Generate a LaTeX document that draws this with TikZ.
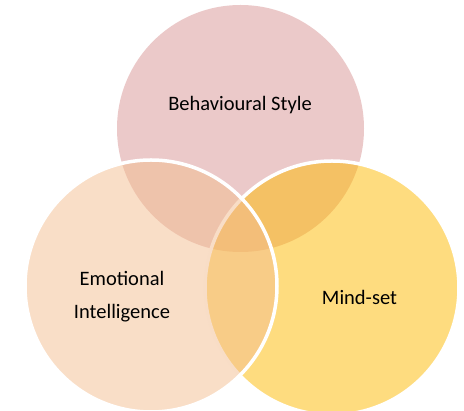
\documentclass[tikz,border=0pt]{standalone}
\usepackage{fontspec}
\setmainfont{Carlito}
\definecolor{topc}{RGB}{215,147,147}
\definecolor{leftc}{RGB}{243,189,143}
\definecolor{rightc}{RGB}{253,185,0}
\begin{document}
\begin{tikzpicture}[x=1pt,y=-1pt,
  bubble/.style={circle,inner sep=0pt,fill opacity=0.5,draw=white,line width=3.5pt},
  lbl/.style={font=\fontsize{20.5}{33}\selectfont,text=black,align=center}]
\useasboundingbox (0,0) rectangle (464,411);
\node[bubble,draw=none,fill=topc,minimum size=247pt] (top) at (240.5,128.5) {};
\node[bubble,fill=rightc,minimum size=254pt] (right) at (332,288) {};
\node[bubble,fill=leftc,minimum size=252pt] (left) at (151,286) {};
\node[lbl] (tl) at (240,105) {Behavioural Style};
\node[lbl] (ll) at (122,296.5) {Emotional\\Intelligence};
\node[lbl] (rl) at (359.5,297) {Mind-set};
\end{tikzpicture}
\end{document}
